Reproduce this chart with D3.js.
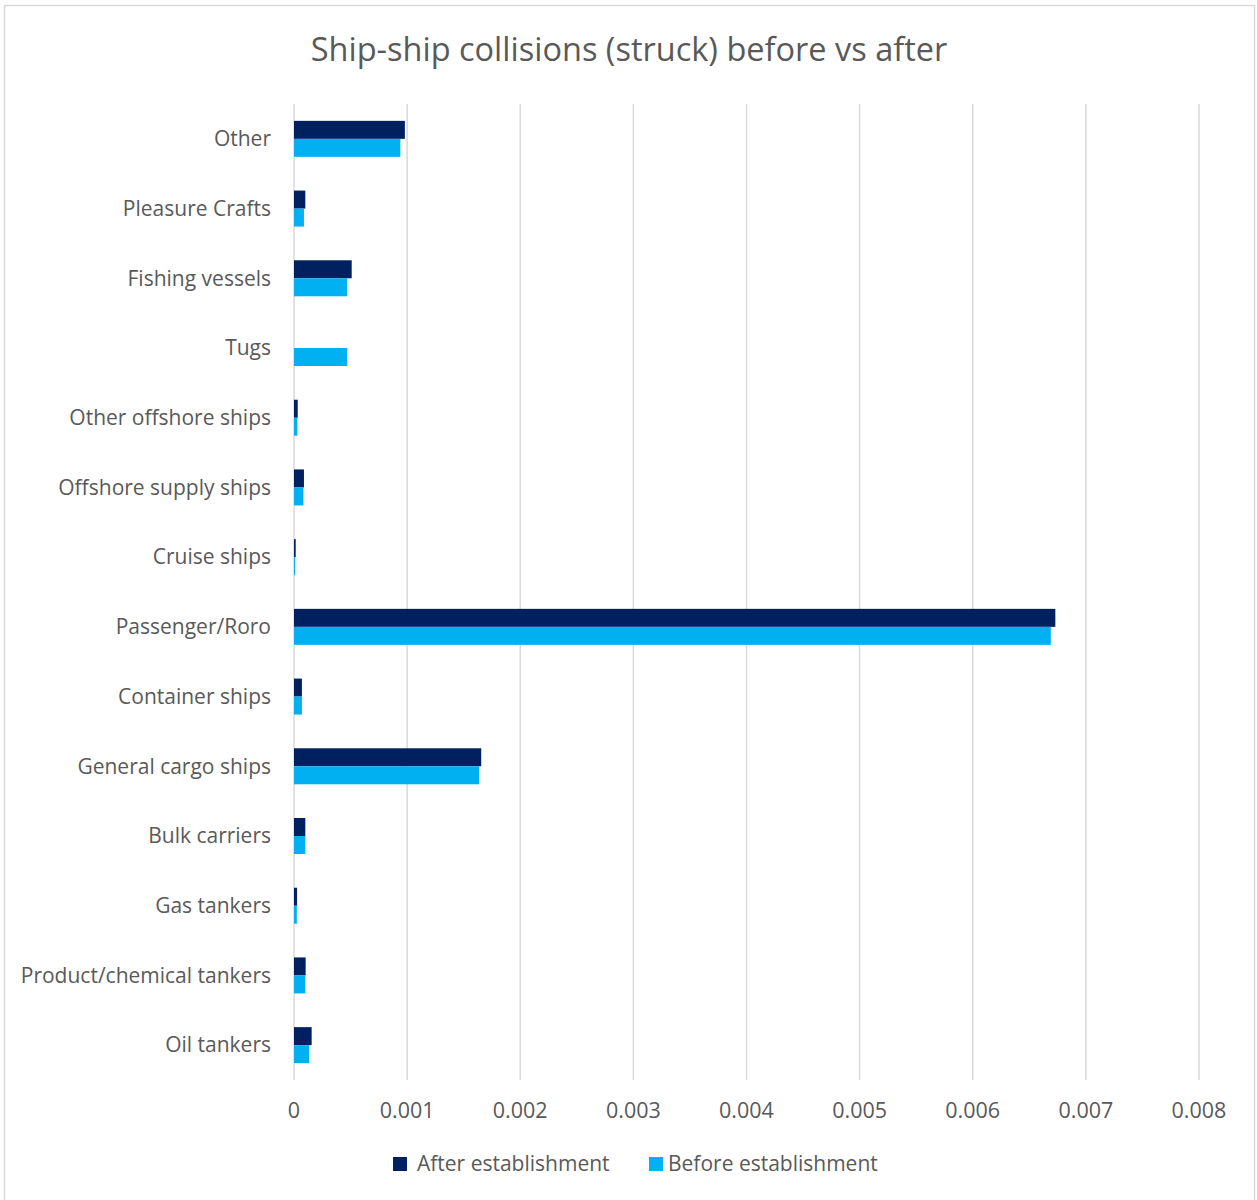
<!DOCTYPE html>
<html>
<head>
<meta charset="utf-8">
<script src="https://cdn.jsdelivr.net/npm/d3@7"></script>
<style>
  body { margin: 0; background: #fff; }
  text { font-family: "Open Sans", "Noto Sans", sans-serif; fill: #595959; }
</style>
</head>
<body>
<div id="chart"></div>
<script>
const categories = [
  'Other', 'Pleasure Crafts', 'Fishing vessels', 'Tugs', 'Other offshore ships',
  'Offshore supply ships', 'Cruise ships', 'Passenger/Roro', 'Container ships',
  'General cargo ships', 'Bulk carriers', 'Gas tankers', 'Product/chemical tankers', 'Oil tankers'
];
const afterValues = [
  0.00098, 0.0001, 0.00051, 0, 0.000033,
  0.000088, 0.000015, 0.00673, 0.00007,
  0.001655, 0.0001, 0.000027, 0.000103, 0.000156
];
const beforeValues = [
  0.00094, 0.000088, 0.00047, 0.00047, 0.00003,
  0.000083, 0.00001, 0.00669, 0.00007,
  0.001637, 0.0001, 0.000025, 0.0001, 0.000133
];
const xTicks = [0, 0.001, 0.002, 0.003, 0.004, 0.005, 0.006, 0.007, 0.008];
const seriesNames = ['After establishment', 'Before establishment'];
const seriesColors = ['#002060', '#00B0F0'];

const width = 1257, height = 1200;
const svg = d3.select('#chart').append('svg')
  .attr('width', width)
  .attr('height', height);

// chart border
svg.append('rect')
  .attr('x', 4.5).attr('y', 5.5)
  .attr('width', 1250).attr('height', 1200)
  .attr('fill', '#fff')
  .attr('stroke', '#d9d9d9')
  .attr('stroke-width', 1.5);

svg.append('text')
  .attr('x', 629).attr('y', 61)
  .attr('text-anchor', 'middle')
  .style('font-size', '32.5px')
  .text('Ship-ship collisions (struck) before vs after');

const x = d3.scaleLinear().domain([0, 0.008]).range([294, 1199]);
const y = d3.scaleBand().domain(categories).range([104, 1080]);
const inner = d3.scaleBand().domain([0, 1])
  .range([y.bandwidth() / 2 - 18, y.bandwidth() / 2 + 18]);

// gridlines
svg.append('g').selectAll('line')
  .data(xTicks)
  .join('line')
  .attr('x1', d => x(d)).attr('x2', d => x(d))
  .attr('y1', 104).attr('y2', 1080)
  .attr('stroke', '#d9d9d9')
  .attr('stroke-width', 1.5);

// bars
const groups = svg.append('g').selectAll('g')
  .data(categories)
  .join('g')
  .attr('transform', d => `translate(0,${y(d)})`);

groups.selectAll('rect')
  .data((d, i) => [afterValues[i], beforeValues[i]])
  .join('rect')
  .attr('x', x(0))
  .attr('y', (d, j) => inner(j))
  .attr('width', d => x(d) - x(0))
  .attr('height', inner.bandwidth())
  .attr('fill', (d, j) => seriesColors[j]);

// category labels
svg.append('g').selectAll('text')
  .data(categories)
  .join('text')
  .attr('x', 271)
  .attr('y', d => y(d) + y.bandwidth() / 2)
  .attr('dy', '0.35em')
  .attr('text-anchor', 'end')
  .style('font-size', '21px')
  .text(d => d);

// x tick labels
svg.append('g').selectAll('text')
  .data(xTicks)
  .join('text')
  .attr('x', d => x(d))
  .attr('y', 1110)
  .attr('dy', '0.35em')
  .attr('text-anchor', 'middle')
  .style('font-size', '21.5px')
  .text(d => d === 0 ? '0' : d3.format('.3f')(d));

// legend
const legendX = [393, 649];
const legend = svg.append('g').selectAll('g')
  .data(seriesNames)
  .join('g')
  .attr('transform', (d, i) => `translate(${legendX[i]},1157)`);

legend.append('rect')
  .attr('width', 14).attr('height', 14)
  .attr('fill', (d, i) => seriesColors[i]);

legend.append('text')
  .attr('x', (d, i) => i === 0 ? 24 : 19)
  .attr('y', 7)
  .attr('dy', '0.35em')
  .style('font-size', '21px')
  .text(d => d);
</script>
</body>
</html>
